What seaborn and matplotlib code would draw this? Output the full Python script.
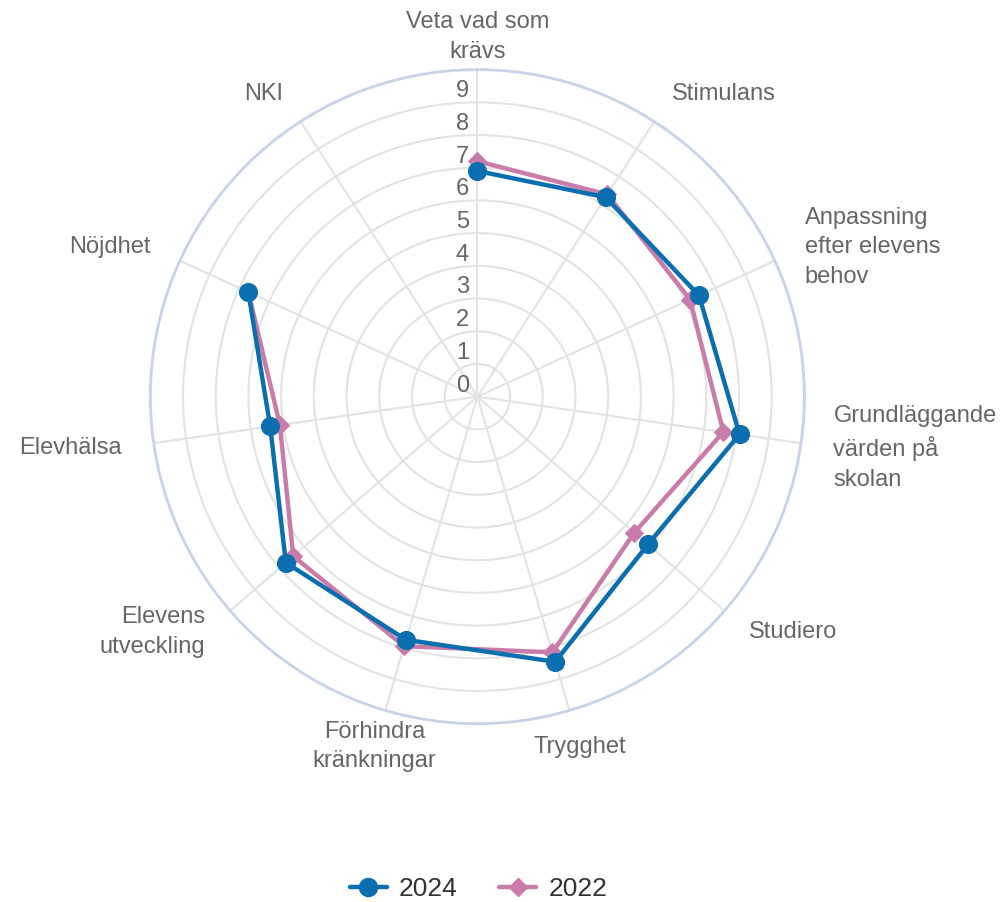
import numpy as np
import pandas as pd
import matplotlib
matplotlib.use("Agg")
import matplotlib.pyplot as plt
import matplotlib.transforms as mtransforms
from matplotlib.lines import Line2D
import seaborn as sns

# categories, clockwise from the top
categories = ['Veta vad som\nkrävs', 'Stimulans', 'Anpassning\nefter elevens\nbehov',
              'Grundläggande\nvärden på\nskolan', 'Studiero', 'Trygghet',
              'Förhindra\nkränkningar', 'Elevens\nutveckling', 'Elevhälsa',
              'Nöjdhet', 'NKI']
values_2024 = [6.9, 7.25, 7.45, 8.1, 6.9, 8.45, 7.75, 7.75, 6.4, 7.7, np.nan]
values_2022 = [7.2, 7.35, 7.15, 7.6, 6.35, 8.15, 7.95, 7.45, 6.1, 7.7, np.nan]
radial_ticks = list(range(10))

color_2024 = '#0b6faf'
color_2022 = '#c97ba9'

sns.set_style('white')
plt.rcParams['font.family'] = ['Liberation Sans', 'DejaVu Sans']

n = len(categories)
angles = np.arange(n) * 2 * np.pi / n

df = pd.DataFrame({'angle': np.concatenate([angles, angles]),
                   'value': values_2024 + values_2022,
                   'year': ['2024'] * n + ['2022'] * n})

fig = plt.figure(figsize=(10.07, 9.02), dpi=100)
ax = fig.add_axes([0.1493, 0.1977, 0.6495, 0.7251], projection='polar')
ax.set_theta_offset(np.pi / 2)
ax.set_theta_direction(-1)

# 2022 first so 2024 sits on top
d22 = df[(df['year'] == '2022')].dropna()
sns.lineplot(data=d22, x='angle', y='value', sort=False, estimator=None, ax=ax,
             color=color_2022, linewidth=3.2, marker='D', markersize=9,
             markeredgecolor=color_2022, legend=False)
d24 = df[(df['year'] == '2024')].dropna()
sns.lineplot(data=d24, x='angle', y='value', sort=False, estimator=None, ax=ax,
             color=color_2024, linewidth=3.2, marker='o', markersize=13,
             markeredgecolor=color_2024, legend=False)

ax.set_ylim(0, 10)
ax.set_yticks(radial_ticks[1:])
ax.set_yticklabels([])
ax.set_xticks(angles)
ax.set_xticklabels([])
ax.set_xlabel('')
ax.set_ylabel('')
ax.grid(True, color='#e3e3e3', linewidth=1.5)
ax.spines['polar'].set_color('#c9d3e8')
ax.spines['polar'].set_linewidth(2)

# radial value labels along the top spoke
offset = mtransforms.ScaledTranslation(-6 / 72, 8 / 72, fig.dpi_scale_trans)
for v in radial_ticks:
    ax.text(0, v, str(v), ha='right', va='center', fontsize=17, color='#666666',
            transform=ax.transData + offset)

# category labels outside the circle
for a, lab in zip(angles, categories):
    s = np.sin(a)
    if s > 0.5:
        ha = 'left'
    elif s < -0.5:
        ha = 'right'
    else:
        ha = 'center'
    r_lab = 11.0 if abs(s) > 0.5 or np.cos(a) > 0 else 11.15
    ax.text(a, r_lab, lab, ha=ha, va='center', fontsize=17, color='#666666',
            linespacing=1.45)

handles = [Line2D([], [], color=color_2024, linewidth=3.2, marker='o', markersize=13),
           Line2D([], [], color=color_2022, linewidth=3.2, marker='D', markersize=9)]
fig.legend(handles, ['2024', '2022'], loc='lower center', ncol=2, frameon=False,
           bbox_to_anchor=(0.475, -0.025), fontsize=19, handlelength=1.4,
           handletextpad=0.45, columnspacing=1.6, labelcolor='#333333')

fig.savefig('out.png', dpi=100)
